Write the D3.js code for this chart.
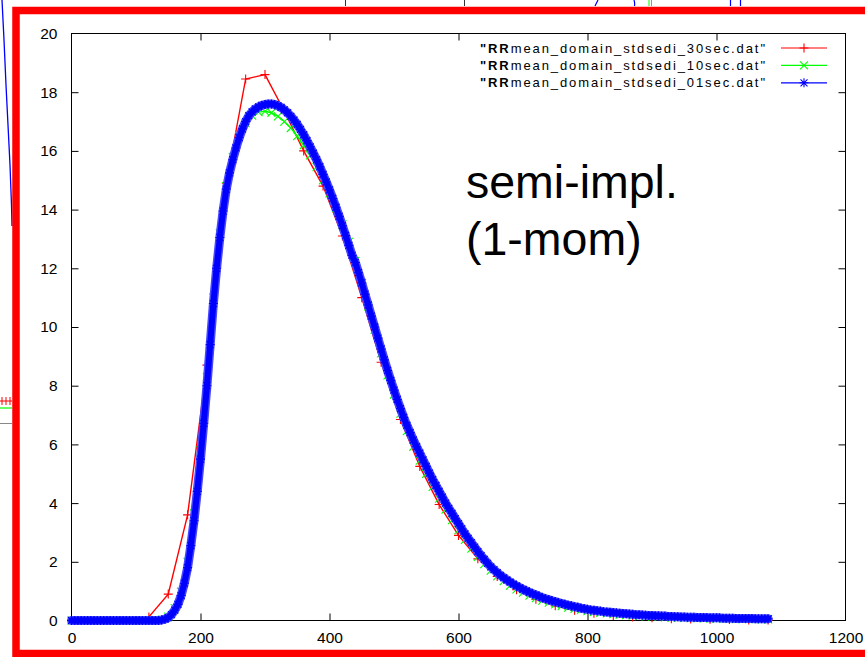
<!DOCTYPE html>
<html>
<head>
<meta charset="utf-8">
<title>RRmean domain stdsedi</title>
<style>
body{margin:0;background:#fff;}
svg{display:block;font-family:"Liberation Sans",Arial,Helvetica,sans-serif;}
.tick line{stroke:#000;}
.tick text{fill:#000;}
</style>
<script src="https://cdn.jsdelivr.net/npm/d3@7"></script>
</head>
<body>
<script>
var width = 865, height = 657;

// --- data (time in s, RR mean) ---
var step30 = 30, step10 = 10, step01 = 5;
var rr30 = [0,0,0,0,0.12,0.9,3.6,8.7,14.9,18.45,18.6,17.35,16.0,14.8,
  13.1,11.0,8.8,6.85,5.25,3.95,2.9,2.1,1.5,1.05,
  0.72,0.5,0.35,0.25,0.17,0.12,0.09,0.06,0.05,0.04,0.03,0.02,0.02];
var rr10 = [0,0,0,0,0,0,0,0,0,0,0,0,0,0,
  0.03,0.13,0.42,0.98,2.0,3.65,5.8,8.3,11.0,13.2,
  14.8,15.8,16.5,16.95,17.2,17.32,17.35,17.3,17.18,17.0,
  16.78,16.5,16.2,15.85,15.45,15.0,14.55,14.05,13.5,12.9,
  12.25,11.5,10.7,9.9,9.1,8.35,7.7,7.05,6.45,5.92,
  5.45,5.0,4.55,4.15,3.78,3.42,3.08,2.75,2.45,2.17,
  1.92,1.7,1.5,1.34,1.19,1.06,0.95,0.85,0.76,0.68,
  0.61,0.55,0.49,0.44,0.4,0.36,0.32,0.29,0.26,0.24,
  0.22,0.2,0.18,0.17,0.15,0.14,0.13,0.12,0.11,0.1,
  0.1,0.09,0.08,0.08,0.07,0.07,0.06,0.06,0.06,0.05,
  0.05,0.05,0.05,0.04,0.04];
var rr01 = [0,0,0,0,0,0,0,0,0,0,0,0,0,0,0,0,0,0,0,0,0,0,0,0,0,0,0,0,
  0.02,0.05,0.1,0.2,0.35,0.55,0.85,1.27,1.8,2.55,
  3.4,4.4,5.5,6.72,8.0,9.4,10.8,12.0,13.05,13.95,
  14.7,15.25,15.7,16.1,16.45,16.75,17.0,17.2,17.33,17.43,
  17.5,17.55,17.58,17.6,17.6,17.58,17.54,17.48,17.4,17.3,
  17.18,17.05,16.9,16.73,16.55,16.35,16.14,15.92,15.7,15.46,
  15.2,14.94,14.67,14.38,14.08,13.77,13.45,13.12,12.78,12.44,
  12.2,11.85,11.5,11.12,10.75,10.37,10.0,9.62,9.25,8.88,
  8.52,8.18,7.85,7.53,7.22,6.92,6.65,6.4,6.15,5.92,
  5.7,5.47,5.25,5.02,4.8,4.6,4.4,4.2,4.0,3.82,
  3.65,3.47,3.3,3.12,2.95,2.8,2.65,2.5,2.35,2.21,
  2.08,1.95,1.83,1.73,1.63,1.54,1.46,1.38,1.31,1.24,
  1.18,1.12,1.06,1.01,0.96,0.91,0.87,0.82,0.78,0.74,
  0.71,0.67,0.64,0.61,0.58,0.55,0.52,0.5,0.47,0.45,
  0.42,0.4,0.38,0.36,0.35,0.33,0.32,0.3,0.29,0.28,
  0.27,0.26,0.25,0.24,0.23,0.22,0.21,0.2,0.2,0.19,
  0.18,0.17,0.17,0.16,0.16,0.15,0.15,0.14,0.14,0.13,
  0.13,0.12,0.12,0.11,0.11,0.11,0.1,0.1,0.1,0.1,
  0.09,0.09,0.09,0.09,0.08,0.08,0.08,0.08,0.07,0.07,
  0.07,0.07,0.07,0.07,0.06,0.06,0.06,0.06,0.06];

var seriesNames = ['"RRmean_domain_stdsedi_30sec.dat"',
                   '"RRmean_domain_stdsedi_10sec.dat"',
                   '"RRmean_domain_stdsedi_01sec.dat"'];
var seriesColors = ["#ff0000", "#00ff00", "#0000ff"];
var xTicks = [0, 200, 400, 600, 800, 1000, 1200];
var yTicks = [0, 2, 4, 6, 8, 10, 12, 14, 16, 18, 20];
var noteLines = ["semi-impl.", "(1-mom)"];

var series = [
  {name: seriesNames[0], color: seriesColors[0], mark: "plus", values: rr30, step: step30},
  {name: seriesNames[1], color: seriesColors[1], mark: "cross", values: rr10, step: step10},
  {name: seriesNames[2], color: seriesColors[2], mark: "star", values: rr01, step: step01, dense: true}
];

var svg = d3.select("body").append("svg")
  .attr("width", width).attr("height", height);

// bits of the neighbouring plots peeking out around the frame
var bg = svg.append("g").attr("fill", "none");
bg.append("path").attr("stroke", "#0000ff").attr("stroke-width", 1.3)
  .attr("d", "M2,0 L4,40 L6,85 L8,125 L10,165 L11.5,205 L12,226");
bg.append("path").attr("stroke", "#ff0000").attr("stroke-width", 1)
  .attr("d", "M0,401H12M2,397V405M6,397V405M10,397V405");
bg.append("path").attr("stroke", "#00ff00").attr("stroke-width", 1.2)
  .attr("d", "M0,408H12");
bg.append("path").attr("stroke", "#888").attr("stroke-width", 1)
  .attr("d", "M0,423.5H12");
bg.append("path").attr("stroke", "#333").attr("stroke-width", 1)
  .attr("d", "M345.5,0V6M464.5,0V6");
bg.append("path").attr("stroke", "#0000ff").attr("stroke-width", 1.2)
  .attr("d", "M595,6 Q597,2 598,0 M634,0 Q635,3 634.5,6 M730.5,0V6 M740.5,0V6");
bg.append("path").attr("stroke", "#00ff00").attr("stroke-width", 1)
  .attr("d", "M649,0V6 M651.5,0V6");

// red frame
svg.append("rect")
  .attr("x", 16).attr("y", 10.5)
  .attr("width", 900).attr("height", 643)
  .attr("fill", "none")
  .attr("stroke", "#ff0000")
  .attr("stroke-width", 7.5);

var x = d3.scaleLinear().domain([0, 1200]).range([71.5, 845.5]);
var y = d3.scaleLinear().domain([0, 20]).range([620.5, 33.5]);

// axes, ticks inside and mirrored
var gx = svg.append("g").attr("transform", "translate(0," + y(0) + ")")
  .call(d3.axisBottom(x).tickValues(xTicks).tickFormat(d3.format("d"))
    .tickSize(-7).tickPadding(11).tickSizeOuter(0));
svg.append("g").attr("transform", "translate(0," + y(20) + ")")
  .call(d3.axisTop(x).tickValues(xTicks.slice(1, -1)).tickSize(-7).tickFormat("").tickSizeOuter(0));
var gy = svg.append("g").attr("transform", "translate(" + x(0) + ",0)")
  .call(d3.axisLeft(y).tickValues(yTicks).tickFormat(d3.format("d"))
    .tickSize(-7).tickPadding(14).tickSizeOuter(0));
svg.append("g").attr("transform", "translate(" + x(1200) + ",0)")
  .call(d3.axisRight(y).tickValues(yTicks.slice(1, -1)).tickSize(-7).tickFormat("").tickSizeOuter(0));

svg.selectAll(".domain").remove();
svg.selectAll(".tick text")
  .attr("font-family", '"Liberation Sans",Arial,sans-serif')
  .attr("font-size", 15.5);
gx.selectAll(".tick").filter(function(d){ return d == 0 || d == 1200; }).select("line").remove();
gy.selectAll(".tick").filter(function(d){ return d == 0 || d == 20; }).select("line").remove();

svg.append("rect")
  .attr("x", x(0)).attr("y", y(20))
  .attr("width", x(1200) - x(0)).attr("height", y(0) - y(20))
  .attr("fill", "none").attr("stroke", "#000").attr("stroke-width", 1);

// point symbols
var half = 4.5;
var marks = {
  plus: "M" + (-half) + ",0H" + half + "M0," + (-half) + "V" + half,
  cross: "M-4,-4L4,4M-4,4L4,-4",
  star: "M" + (-half) + ",0H" + half + "M0," + (-half) + "V" + half + "M-3.5,-3.5L3.5,3.5M-3.5,3.5L3.5,-3.5"
};

var line = d3.line()
  .x(function(d){ return x(d[0]); })
  .y(function(d){ return y(d[1]); });

series.forEach(function(s){
  var pts = s.values.map(function(v, i){ return [i * s.step, v]; });
  var g = svg.append("g");
  if (s.dense) {
    // the 1 s file puts a symbol on every pixel: they merge into a thick band
    g.append("path").datum(pts).attr("d", line)
      .attr("fill", "none").attr("stroke", "#4848ff")
      .attr("stroke-width", 9).attr("stroke-linejoin", "round").attr("stroke-linecap", "round");
    g.append("path").datum(pts).attr("d", line)
      .attr("fill", "none").attr("stroke", "#0000ff")
      .attr("stroke-width", 6).attr("stroke-linejoin", "round").attr("stroke-linecap", "round");
  }
  g.append("path")
    .datum(pts)
    .attr("d", line)
    .attr("fill", "none")
    .attr("stroke", s.color)
    .attr("stroke-width", 1.4);
  g.selectAll("path.pt")
    .data(pts)
    .enter().append("path")
    .attr("class", "pt")
    .attr("d", marks[s.mark])
    .attr("transform", function(d){ return "translate(" + x(d[0]) + "," + y(d[1]) + ")"; })
    .attr("fill", "none")
    .attr("stroke", s.color)
    .attr("stroke-width", 1.1);
});

// legend
var legend = svg.append("g");
var rowY = [48, 65.4, 82.8];
series.forEach(function(s, i){
  var r = legend.append("g").attr("transform", "translate(0," + rowY[i] + ")");
  var t = r.append("text")
    .attr("x", 480).attr("y", 4.6)
    .attr("font-size", 13)
    .attr("textLength", 285)
    .attr("lengthAdjust", "spacing")
    .attr("fill", "#000");
  t.append("tspan").attr("font-weight", "bold").text(s.name.slice(0, 3));
  t.append("tspan").text(s.name.slice(3));
  r.append("line")
    .attr("x1", 781).attr("x2", 827)
    .attr("stroke", s.color).attr("stroke-width", 1.2);
  r.append("path")
    .attr("d", marks[s.mark])
    .attr("transform", "translate(804,0)")
    .attr("fill", "none")
    .attr("stroke", s.color).attr("stroke-width", 1.1);
});

// annotation
svg.append("text")
  .attr("x", 466).attr("font-size", 46.5).attr("fill", "#000")
  .selectAll("tspan")
  .data(noteLines)
  .enter().append("tspan")
  .attr("x", 466)
  .attr("y", function(d, i){ return 198 + i * 57; })
  .text(function(d){ return d; });
</script>
</body>
</html>
